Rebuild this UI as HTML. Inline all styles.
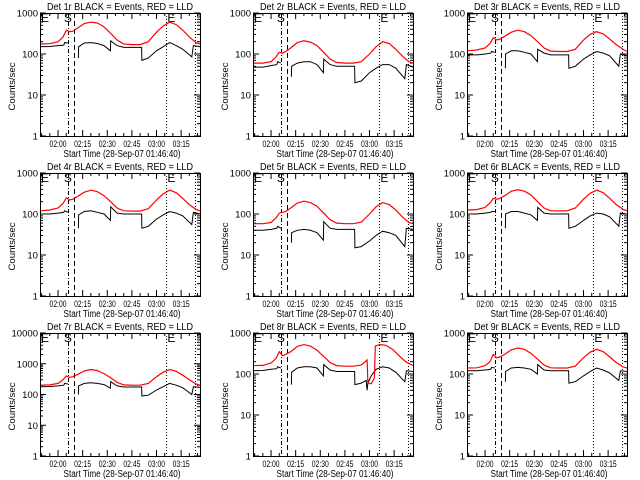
<!DOCTYPE html>
<html><head><meta charset="utf-8"><style>
html,body{margin:0;padding:0;background:#fff;}
svg{display:block;font-family:"Liberation Sans",sans-serif;}
</style></head><body>
<svg id="chart" width="640" height="480" viewBox="0 0 640 480">
<rect width="640" height="480" fill="#fff"/>
</svg>
<script>
// Shared data (time in minutes relative to 02:00)
const xTickLabels = ["02:00","02:15","02:30","02:45","03:00","03:15"];
const xTickMinutes = [0,15,30,45,60,75];
const xMinMinutes = -11;
const xMaxMinutes = 86.5;
const markerTimes = [6, 9.7, 66, 83.5];
const markerStyles = ["4,2,1,2","5,3","1,2","1,2"];
const TR = [-11,-5,0,3,5,7,9,12,16,20,24,28,32,36,40,45,50,55,60,64,68,72,76,80,84,86.5];
const TB = [-11,-5,0,3.5,4,6,6.1,12.4,12.5,16,20,24,28,31.9,32.1,36,40,45,50.9,51.1,55,60,64,68,72,76,81.5,82.5,86.5];
const panelNames = ["1r","2r","3r","4r","5r","6r","7r","8r","9r"];
const yDecades = [3,3,3,3,3,3,4,3,3];
const red1 = [175,178,200,260,380,350,360,430,550,600,570,460,320,220,175,170,170,200,340,480,600,520,380,260,190,175];
const blk1 = [150,152,160,165,190,185,null,80,150,185,190,180,160,120,210,160,145,145,145,70,80,120,150,190,160,130,85,160,150];
const red2 = [60,60,65,85,110,105,115,140,190,210,195,160,110,75,62,60,60,65,100,150,200,180,130,90,65,60];
const blk2 = [48,48,52,55,65,60,null,28,50,60,65,65,55,35,75,55,50,50,50,20,22,35,45,55,55,45,25,55,48];
const red3 = [120,125,140,180,250,220,230,270,340,380,350,280,200,140,118,115,115,130,220,300,350,310,230,170,130,115];
const blk3 = [95,95,100,105,115,110,null,45,100,120,120,110,100,65,130,105,95,95,95,45,50,75,95,115,105,90,50,100,90];
const red4 = [120,125,140,180,250,220,230,270,340,380,350,280,200,140,120,118,118,135,220,310,380,330,240,170,130,118];
const blk4 = [100,100,105,110,120,110,null,45,95,115,120,110,100,70,150,105,100,100,100,45,50,75,95,115,105,90,55,110,100];
const red5 = [58,58,62,80,105,110,115,140,185,205,190,155,105,72,60,58,58,63,100,150,190,170,125,85,62,58];
const blk5 = [40,40,42,45,50,45,null,20,35,40,42,40,35,23,65,45,42,42,42,15,16,22,30,38,35,30,16,45,42];
const red6 = [125,128,145,185,240,230,240,280,360,390,360,290,200,140,120,120,120,140,230,320,380,330,240,170,130,120];
const blk6 = [100,100,105,110,115,115,null,45,100,115,115,105,95,70,145,105,100,100,100,45,50,70,90,105,100,85,50,105,100];
const red7 = [200,205,230,300,400,360,380,450,580,650,600,480,350,250,205,200,200,230,380,530,650,570,420,300,220,200];
const blk7 = [180,182,190,200,230,220,null,100,190,230,240,230,210,160,260,190,175,175,175,90,95,140,180,230,200,165,100,180,170];
const TR8 = [-11,-5,0,3,5,7,9,12,16,20,24,28,32,36,40,45,50,55,58.5,59,61,63,63.5,66,70,74,78,82,86.5];
const red8 = [160,162,185,240,350,280,300,350,470,520,480,380,270,190,160,155,155,165,220,60,58,80,480,520,500,400,280,200,160];
const TB8 = [-11,-5,0,3.5,4,6,6.1,12.4,12.5,16,20,24,28,31.9,32.1,36,40,45,50.9,51.1,55,58,58.5,59,61,64,68,72,76,81.5,82.5,86.5];
const blk8 = [120,122,130,135,150,140,null,55,110,140,150,150,140,90,170,125,115,115,115,55,60,70,40,60,90,130,150,140,110,65,120,115];
const red9 = [140,142,160,200,300,250,260,300,390,430,400,320,230,165,142,140,140,155,250,340,400,350,260,190,150,140];
const blk9 = [120,120,125,130,145,140,null,65,115,140,145,140,130,100,170,125,120,120,120,60,65,90,115,140,125,105,70,120,115];

const redSeries = [red1,red2,red3,red4,red5,red6,red7,red8,red9];
const blkSeries = [blk1,blk2,blk3,blk4,blk5,blk6,blk7,blk8,blk9];
const redTimes = [TR,TR,TR,TR,TR,TR,TR,TR8,TR];
const blkTimes = [TB,TB,TB,TB,TB,TB,TB,TB8,TB];

const NS = "http://www.w3.org/2000/svg";
const svg = document.getElementById('chart');
function mk(tag, attrs, parent){
  const e = document.createElementNS(NS, tag);
  for (const k in attrs) e.setAttribute(k, attrs[k]);
  (parent||svg).appendChild(e);
  return e;
}
const W = 160, H = 123;
for (let p = 0; p < 9; p++){
  const col = p % 3, row = Math.floor(p/3);
  const L = [40,253,467][col], T = 13 + row*160;
  const dec = yDecades[p];
  const g = mk('g', {});
  
  
  const xs = t => L + (t - xMinMinutes) / (xMaxMinutes - xMinMinutes) * W;
  const ys = v => T + H - Math.log10(v) / dec * H;
  const tt = mk('text', {x:L+W/2, y:T-3, 'font-size':10.5, 'text-anchor':'middle', textLength:146, lengthAdjust:'spacingAndGlyphs'}, g);
  tt.textContent = 'Det ' + panelNames[p] + ' BLACK = Events, RED = LLD';
  
  
  for (let d = 0; d <= dec; d++){
    const y = ys(Math.pow(10,d));
    mk('line',{x1:L,x2:L+6,y1:y,y2:y,stroke:'#000'},g);
    mk('line',{x1:L+W-6,x2:L+W,y1:y,y2:y,stroke:'#000'},g);
    const s = String(Math.pow(10,d));
    const lb = mk('text',{x:L-2,y:y+3.5,'font-size':9.5,'text-anchor':'end',textLength:s.length*5.3,lengthAdjust:'spacingAndGlyphs'},g);
    lb.textContent = s;
    
    
    if (d < dec){
      for (let m = 2; m <= 9; m++){
        const ym = ys(m*Math.pow(10,d));
        mk('line',{x1:L,x2:L+3,y1:ym,y2:ym,stroke:'#000'},g);
        mk('line',{x1:L+W-3,x2:L+W,y1:ym,y2:ym,stroke:'#000'},g);
      }
    }
  }
  for (let m = -10; m <= 85; m += 5){
    const x = xs(m); const len = (m % 15 === 0) ? 6 : 3;
    mk('line',{x1:x,x2:x,y1:T+H,y2:T+H-len,stroke:'#000'},g);
    mk('line',{x1:x,x2:x,y1:T,y2:T+len,stroke:'#000'},g);
  }
  xTickLabels.forEach((s,i)=>{
    const lb = mk('text',{x:xs(xTickMinutes[i]),y:T+H+11,'font-size':9,'text-anchor':'middle',textLength:17,lengthAdjust:'spacingAndGlyphs'},g);
    lb.textContent = s;
    
    
  });
  const xt = mk('text',{x:L+W/2+2,y:T+H+21,'font-size':10,'text-anchor':'middle',textLength:117,lengthAdjust:'spacingAndGlyphs'},g);
  xt.textContent = 'Start Time (28-Sep-07 01:46:40)';
  
  
  const yt = mk('text',{x:0,y:0,'font-size':9,'text-anchor':'middle',textLength:48,lengthAdjust:'spacingAndGlyphs',transform:`translate(${L-25},${T+H/2+12}) rotate(-90)`},g);
  yt.textContent = 'Counts/sec';
  
  
  markerTimes.forEach((t,i)=>{
    const x = Math.round(xs(t))+0.5;
    const ln = mk('line',{x1:x,x2:x,y1:T,y2:T+H,stroke:'#000','stroke-dasharray':markerStyles[i]},g);
    
    
  });
  [[xs(xMinMinutes)+1,'E'],[xs(markerTimes[0])-4,'S'],[xs(markerTimes[2])+1,'E']].forEach(([x,s])=>{
    const lb = mk('text',{x:x,y:T+9,'font-size':12},g);
    lb.textContent = s;
    
    
  });
  function pathFor(ts, vs){
    let d = '', pen = false;
    for (let i = 0; i < ts.length; i++){
      if (vs[i] === null){ pen = false; continue; }
      d += (pen ? 'L' : 'M') + xs(ts[i]).toFixed(1) + ',' + ys(vs[i]).toFixed(1);
      pen = true;
    }
    return d;
  }
  const bp = mk('path',{d:pathFor(blkTimes[p], blkSeries[p]),fill:'none',stroke:'#000','stroke-width':1},g);
  
  
  const rp = mk('path',{d:pathFor(redTimes[p], redSeries[p]),fill:'none',stroke:'#f00','stroke-width':1.2},g);
  
  
  const fr = mk('rect',{x:L+0.5,y:T+0.5,width:W,height:H,fill:'none',stroke:'#000'},g);
  
  
}
</script>
</body></html>
